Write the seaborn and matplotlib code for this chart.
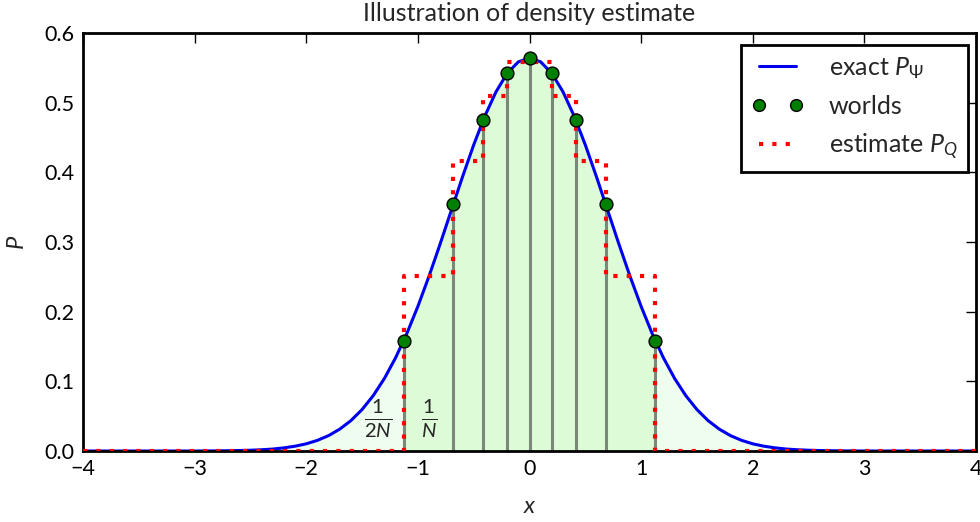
import numpy as np
import pandas as pd
import matplotlib
matplotlib.use("Agg")
import matplotlib.pyplot as plt
from matplotlib.lines import Line2D
import seaborn as sns

# ---- data ----
# exact density P_Psi, sampled every 0.1 for x >= 0 (symmetric curve)
curve_x_half = [0.0, 0.1, 0.2, 0.3, 0.4, 0.5, 0.6, 0.7, 0.8, 0.9, 1.0, 1.1, 1.2, 1.3,
                1.4, 1.5, 1.6, 1.7, 1.8, 1.9, 2.0, 2.1, 2.2, 2.3, 2.4, 2.5, 2.6, 2.7,
                2.8, 2.9, 3.0, 3.5, 4.0]
curve_y_half = [0.5642, 0.5586, 0.5421, 0.5156, 0.4808, 0.4394, 0.3936, 0.3456, 0.2975,
                0.2510, 0.2076, 0.1682, 0.1337, 0.1041, 0.0795, 0.0595, 0.0436, 0.0314,
                0.0221, 0.0153, 0.0103, 0.0069, 0.0045, 0.0028, 0.0018, 0.0011, 0.0007,
                0.0004, 0.0002, 0.0001, 0.0, 0.0, 0.0]
# worlds
world_x = [-1.127, -0.684, -0.417, -0.199, 0.0, 0.199, 0.417, 0.684, 1.127]
world_y = [0.158, 0.355, 0.475, 0.542, 0.564, 0.542, 0.475, 0.355, 0.158]
# estimate P_Q step heights between consecutive worlds
step_heights = [0.251, 0.416, 0.510, 0.558, 0.558, 0.510, 0.416, 0.251]
x_range = [-4.0, 4.0]

xticks = [-4, -3, -2, -1, 0, 1, 2, 3, 4]
yticks = [0.0, 0.1, 0.2, 0.3, 0.4, 0.5, 0.6]

# ---- build tables ----
cx = np.array([-v for v in curve_x_half[::-1]] + curve_x_half[1:])
cy = np.array(curve_y_half[::-1] + curve_y_half[1:])
curve = pd.DataFrame({"x": cx, "P": cy})
worlds = pd.DataFrame({"x": world_x, "P": world_y})
est = pd.DataFrame({"x": [x_range[0]] + world_x + [x_range[1]],
                    "P": [0.0] + step_heights + [0.0, 0.0]})

sns.set_theme(style="white")
FONT = "Lato"
plt.rcParams["font.family"] = [FONT, "DejaVu Sans"]
plt.rcParams["mathtext.fontset"] = "custom"
plt.rcParams["mathtext.rm"] = FONT
plt.rcParams["mathtext.it"] = FONT + ":italic"
plt.rcParams["mathtext.bf"] = FONT + ":bold"

fig = plt.figure(figsize=(9.8, 5.22), dpi=100)
ax = fig.add_axes([83 / 980, 1 - 451 / 522, (976 - 83) / 980, (451 - 33) / 522])

# fills
ax.fill_between(cx, 0, cy, color="#effdee", lw=0, zorder=0)
w0, w1 = world_x[0], world_x[-1]
m = (cx > w0) & (cx < w1)
px = np.concatenate([[w0], cx[m], [w1]])
py = np.concatenate([[world_y[0]], cy[m], [world_y[-1]]])
ax.fill_between(px, 0, py, color="#dcfbd6", lw=0, zorder=0.5)

# stems
ax.vlines(worlds["x"], 0, worlds["P"], color="#7a887a", lw=2.2, zorder=1)

# exact curve
sns.lineplot(data=curve, x="x", y="P", ax=ax, color="#0000ee", lw=2.2,
             sort=False, estimator=None, zorder=2)
# estimate
sns.lineplot(data=est, x="x", y="P", ax=ax, color="red", lw=3,
             sort=False, estimator=None, drawstyle="steps-post",
             dashes=False, zorder=3)
ax.lines[-1].set_dashes((1.0, 2.2))
# worlds
sns.scatterplot(data=worlds, x="x", y="P", ax=ax, color="green", s=85,
                edgecolor="black", linewidth=1, zorder=4)

ax.set_xlim(*x_range)
ax.set_ylim(0, 0.6)
ax.set_xticks(xticks)
ax.set_xticklabels(["\u2212" + str(abs(t)) if t < 0 else str(t) for t in xticks])
ax.set_yticks(yticks)
ax.set_yticklabels([f"{t:.1f}" for t in yticks])
ax.tick_params(direction="in", length=7, width=1, top=True, right=True,
               labelsize=15.5, pad=6, colors="black")
for s in ax.spines.values():
    s.set_linewidth(2)
    s.set_color("black")
ax.set_xlabel("$x$", fontsize=17, labelpad=12)
ax.set_ylabel("$P$", fontsize=17, labelpad=12)
ax.set_title("Illustration of density estimate", fontsize=18, pad=8.5)

ax.text(-1.36, 0.047, r"$\frac{1}{2N}$", fontsize=21, ha="center", va="center")
ax.text(-0.9, 0.047, r"$\frac{1}{N}$", fontsize=21, ha="center", va="center")

handles = [
    Line2D([], [], color="#0000ee", lw=2.2),
    Line2D([], [], color="green", marker="o", ls="none", ms=8.5,
           markeredgecolor="black", markeredgewidth=1),
    Line2D([], [], color="red", lw=3, dashes=(1.0, 2.2)),
]
labels = [r"exact $P_\Psi$", "worlds", r"estimate $P_Q$"]
leg = ax.legend(handles, labels, loc="upper right", numpoints=2, fontsize=18,
                frameon=True, fancybox=False, borderpad=0.4, handlelength=2.1,
                handletextpad=1.0, labelspacing=0.55, borderaxespad=0,
                bbox_to_anchor=(0.991, 0.971))
leg.get_frame().set_edgecolor("black")
leg.get_frame().set_linewidth(2)
leg.get_frame().set_alpha(1)

fig.savefig("out.png", dpi=100)
